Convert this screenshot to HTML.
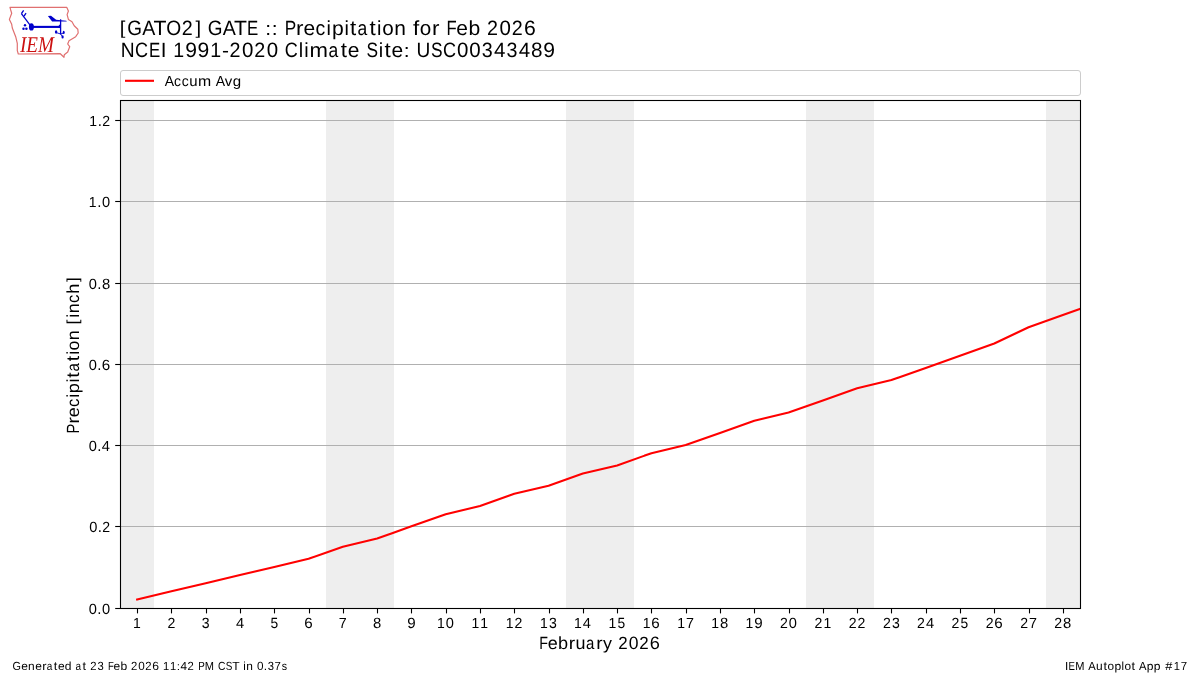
<!DOCTYPE html>
<html><head><meta charset="utf-8">
<style>
html,body{margin:0;padding:0;background:#fff;width:1200px;height:675px;overflow:hidden}
svg{display:block;will-change:transform}
text{font-family:"Liberation Sans",sans-serif;fill:#000;text-rendering:geometricPrecision}
</style></head>
<body>
<svg width="1200" height="675" viewBox="0 0 1200 675">
<rect x="0" y="0" width="1200" height="675" fill="#fff"/>
<!-- logo -->
<g id="logo">
<path d="M10,7.3 L66.7,7.3 L68.4,11 L67.1,14.6 L68.4,19.4 L72,21.7 L74.2,25.7 L77.8,29.2 L78.2,33 L75.7,36.7 L69,40.7 L67.7,44 L69.7,46.7 L67.7,52 L64.3,54.7 L64,57.3 L60.3,53.7 L18.3,54 L17.3,50.7 L17.3,43.3 L15.7,36.7 L12.3,28 L11.7,24.3 L9.4,19.4 L11.7,13.2 L10.6,9.7 Z" fill="none" stroke="#e07070" stroke-width="1.2" stroke-linejoin="round"/>
<g fill="#0000cc" stroke="#0000cc">
<line x1="31.4" y1="26.8" x2="21.4" y2="13.7" stroke-width="1.3"/>
<line x1="21.4" y1="13.7" x2="23.6" y2="10.3" stroke-width="1.3"/>
<line x1="24.1" y1="16.2" x2="26" y2="13.2" stroke-width="1.3"/>
<ellipse cx="31.4" cy="26.9" rx="2.5" ry="3.6" stroke="none"/>
<circle cx="25" cy="25.3" r="1.2" stroke="none"/>
<circle cx="23.5" cy="28.8" r="1.25" stroke="none"/>
<circle cx="26.4" cy="28.8" r="1.25" stroke="none"/>
<line x1="31.4" y1="26.9" x2="60.6" y2="26.9" stroke-width="2.1"/>
<line x1="60.6" y1="19.3" x2="60.6" y2="34.2" stroke-width="1.3"/>
<polygon points="57.5,26.9 60.6,23.8 60.6,28.4" stroke="none"/>
<polygon points="47.9,16 51,15.8 56.1,19.8 66.3,20.7 66.8,21.6 52.1,21.6" stroke="none"/>
<ellipse cx="56.1" cy="32" rx="1.2" ry="1.8" stroke="none"/>
<ellipse cx="63.7" cy="32.4" rx="1" ry="1.7" stroke="none"/>
<ellipse cx="62.6" cy="36.9" rx="1.1" ry="1.6" stroke="none"/>
<polyline points="56.1,32.5 60.6,34 63.7,33" fill="none" stroke-width="0.9"/>
<line x1="60.6" y1="34" x2="62.6" y2="36.9" stroke-width="0.9"/>
</g>
<text x="20" y="51.7" font-family="Liberation Serif" font-style="italic" font-size="22.5" fill="#cc1111" style="font-family:'Liberation Serif',serif;fill:#cc1111" textLength="34" lengthAdjust="spacingAndGlyphs">IEM</text>
</g>


<g transform="translate(119.50 35.00)"><text transform="matrix(1.0418 0 0 0.9565 0.23 -1.30)" font-size="19.44">[</text><text transform="matrix(0.9753 0 0 1.0683 7.64 0.07)" font-size="19.44">G</text><text transform="matrix(1.0074 0 0 1.0596 22.74 0.00)" font-size="19.44">A</text><text transform="matrix(1.0907 0 0 1.0596 33.97 0.00)" font-size="19.44">T</text><text transform="matrix(0.9886 0 0 1.0683 46.68 0.07)" font-size="19.44">O</text><text transform="matrix(1.0161 0 0 1.0629 62.31 0.00)" font-size="19.44">2</text><text transform="matrix(1.0418 0 0 0.9565 75.98 -1.30)" font-size="19.44">]</text><text transform="matrix(0.9753 0 0 1.0683 88.14 0.07)" font-size="19.44">G</text><text transform="matrix(1.0074 0 0 1.0596 103.24 0.00)" font-size="19.44">A</text><text transform="matrix(1.0907 0 0 1.0596 114.47 0.00)" font-size="19.44">T</text><text transform="matrix(0.8667 0 0 1.0596 127.53 0.00)" font-size="19.44">E</text><text transform="matrix(1.0821 0 0 0.9787 145.86 0.00)" font-size="19.44">:</text><text transform="matrix(1.0821 0 0 0.9787 152.36 0.00)" font-size="19.44">:</text><text transform="matrix(0.8844 0 0 1.0596 165.25 0.00)" font-size="19.44">P</text><text transform="matrix(1.1500 0 0 1.0408 176.60 0.00)" font-size="19.44">r</text><text transform="matrix(1.0801 0 0 1.0481 183.93 0.08)" font-size="19.44">e</text><text transform="matrix(1.0034 0 0 1.0481 195.99 0.08)" font-size="19.44">c</text><text transform="matrix(1.0222 0 0 1.0485 207.00 0.00)" font-size="19.44">i</text><text transform="matrix(1.0879 0 0 1.0308 212.40 -0.11)" font-size="19.44">p</text><text transform="matrix(1.0222 0 0 1.0485 224.88 0.00)" font-size="19.44">i</text><text transform="matrix(1.1500 0 0 1.0731 230.52 -0.16)" font-size="19.44">t</text><text transform="matrix(0.8992 0 0 1.0481 237.93 0.08)" font-size="19.44">a</text><text transform="matrix(1.1500 0 0 1.0731 250.02 -0.16)" font-size="19.44">t</text><text transform="matrix(1.0222 0 0 1.0485 257.50 0.00)" font-size="19.44">i</text><text transform="matrix(1.0631 0 0 1.0481 262.70 0.08)" font-size="19.44">o</text><text transform="matrix(1.0782 0 0 1.0408 274.87 0.00)" font-size="19.44">n</text><text transform="matrix(1.1500 0 0 1.0499 293.55 0.00)" font-size="19.44">f</text><text transform="matrix(1.0631 0 0 1.0481 300.20 0.08)" font-size="19.44">o</text><text transform="matrix(1.1500 0 0 1.0408 312.60 0.00)" font-size="19.44">r</text><text transform="matrix(0.8571 0 0 1.0596 326.92 0.00)" font-size="19.44">F</text><text transform="matrix(1.0801 0 0 1.0481 336.68 0.08)" font-size="19.44">e</text><text transform="matrix(1.0879 0 0 1.0539 348.90 0.08)" font-size="19.44">b</text><text transform="matrix(1.0161 0 0 1.0629 367.56 0.00)" font-size="19.44">2</text><text transform="matrix(1.0541 0 0 1.0683 379.98 0.07)" font-size="19.44">0</text><text transform="matrix(1.0161 0 0 1.0629 392.18 0.00)" font-size="19.44">2</text><text transform="matrix(1.0910 0 0 1.0683 404.41 0.07)" font-size="19.44">6</text></g>
<g transform="translate(120.30 57.00)"><text transform="matrix(0.9878 0 0 1.0596 0.33 0.00)" font-size="19.44">N</text><text transform="matrix(0.9283 0 0 1.0683 14.68 0.07)" font-size="19.44">C</text><text transform="matrix(0.8667 0 0 1.0596 28.65 0.00)" font-size="19.44">E</text><text transform="matrix(1.0576 0 0 1.0596 40.39 0.00)" font-size="19.44">I</text><text transform="matrix(1.0068 0 0 1.0596 52.90 0.00)" font-size="19.44">1</text><text transform="matrix(1.0888 0 0 1.0683 64.86 0.07)" font-size="19.44">9</text><text transform="matrix(1.0888 0 0 1.0683 77.23 0.07)" font-size="19.44">9</text><text transform="matrix(1.0068 0 0 1.0596 90.02 0.00)" font-size="19.44">1</text><text transform="matrix(1.0780 0 0 1.0250 101.77 -0.03)" font-size="19.44">-</text><text transform="matrix(1.0161 0 0 1.0629 109.31 0.00)" font-size="19.44">2</text><text transform="matrix(1.0541 0 0 1.0683 121.73 0.07)" font-size="19.44">0</text><text transform="matrix(1.0161 0 0 1.0629 133.93 0.00)" font-size="19.44">2</text><text transform="matrix(1.0541 0 0 1.0683 146.36 0.07)" font-size="19.44">0</text><text transform="matrix(0.9283 0 0 1.0683 164.55 0.07)" font-size="19.44">C</text><text transform="matrix(1.0222 0 0 1.0485 178.49 0.00)" font-size="19.44">l</text><text transform="matrix(1.0222 0 0 1.0485 184.00 0.00)" font-size="19.44">i</text><text transform="matrix(1.1394 0 0 1.0408 189.29 0.00)" font-size="19.44">m</text><text transform="matrix(0.8992 0 0 1.0481 208.30 0.08)" font-size="19.44">a</text><text transform="matrix(1.1500 0 0 1.0731 220.40 -0.16)" font-size="19.44">t</text><text transform="matrix(1.0801 0 0 1.0481 227.56 0.08)" font-size="19.44">e</text><text transform="matrix(0.8914 0 0 1.0683 246.12 0.07)" font-size="19.44">S</text><text transform="matrix(1.0222 0 0 1.0485 258.50 0.00)" font-size="19.44">i</text><text transform="matrix(1.1500 0 0 1.0731 264.15 -0.16)" font-size="19.44">t</text><text transform="matrix(1.0801 0 0 1.0481 271.31 0.08)" font-size="19.44">e</text><text transform="matrix(1.0821 0 0 0.9787 283.48 0.00)" font-size="19.44">:</text><text transform="matrix(0.9828 0 0 1.0651 296.09 0.07)" font-size="19.44">U</text><text transform="matrix(0.8914 0 0 1.0683 310.74 0.07)" font-size="19.44">S</text><text transform="matrix(0.9283 0 0 1.0683 322.80 0.07)" font-size="19.44">C</text><text transform="matrix(1.0541 0 0 1.0683 336.73 0.07)" font-size="19.44">0</text><text transform="matrix(1.0541 0 0 1.0683 348.98 0.07)" font-size="19.44">0</text><text transform="matrix(1.0124 0 0 1.0683 361.48 0.07)" font-size="19.44">3</text><text transform="matrix(1.0543 0 0 1.0596 373.60 0.00)" font-size="19.44">4</text><text transform="matrix(1.0124 0 0 1.0683 386.23 0.07)" font-size="19.44">3</text><text transform="matrix(1.0543 0 0 1.0596 398.35 0.00)" font-size="19.44">4</text><text transform="matrix(1.0656 0 0 1.0683 410.67 0.07)" font-size="19.44">8</text><text transform="matrix(1.0888 0 0 1.0683 422.86 0.07)" font-size="19.44">9</text></g>
<rect x="120.5" y="70.5" width="960" height="25" rx="2.5" ry="2.5" fill="#fff" stroke="#cccccc" stroke-width="1"/>
<line x1="125" y1="80.8" x2="154" y2="80.8" stroke="#ff0000" stroke-width="2.1"/>
<g transform="translate(164.60 86.00)"><text transform="matrix(1.0074 0 0 1.0596 0.08 0.00)" font-size="13.89">A</text><text transform="matrix(1.0034 0 0 1.0481 9.42 0.05)" font-size="13.89">c</text><text transform="matrix(1.0034 0 0 1.0481 17.05 0.05)" font-size="13.89">c</text><text transform="matrix(1.0782 0 0 1.0672 24.71 0.05)" font-size="13.89">u</text><text transform="matrix(1.1394 0 0 1.0408 33.46 0.00)" font-size="13.89">m</text><text transform="matrix(1.0074 0 0 1.0596 51.21 0.00)" font-size="13.89">A</text><text transform="matrix(1.0792 0 0 1.0351 60.24 0.00)" font-size="13.89">v</text><text transform="matrix(1.0869 0 0 1.0322 68.26 -0.09)" font-size="13.89">g</text></g>
<g fill="#eeeeee">
<rect x="121" y="101" width="33" height="507"/>
<rect x="326" y="101" width="68" height="507"/>
<rect x="566" y="101" width="68" height="507"/>
<rect x="806" y="101" width="68" height="507"/>
<rect x="1046" y="101" width="34" height="507"/>
</g>
<g stroke="#b0b0b0" stroke-width="1" shape-rendering="crispEdges"><line x1="120" y1="120.5" x2="1080" y2="120.5"/><line x1="120" y1="201.5" x2="1080" y2="201.5"/><line x1="120" y1="283.5" x2="1080" y2="283.5"/><line x1="120" y1="364.5" x2="1080" y2="364.5"/><line x1="120" y1="445.5" x2="1080" y2="445.5"/><line x1="120" y1="526.5" x2="1080" y2="526.5"/></g>
<svg x="120" y="100" width="960" height="508" viewBox="120 100 960 508" overflow="hidden">
<polyline fill="none" stroke="#ff0000" stroke-width="2.08" stroke-linejoin="round" stroke-linecap="square" points="137.14,599.48 171.43,591.35 205.71,583.23 240.00,575.10 274.29,566.98 308.57,558.85 342.86,546.66 377.14,538.54 411.43,526.35 445.71,514.16 480.00,506.04 514.29,493.85 548.57,485.73 582.86,473.54 617.14,465.41 651.43,453.23 685.71,445.10 720.00,432.91 754.29,420.73 788.57,412.60 822.86,400.41 857.14,388.23 891.43,380.10 925.71,367.91 960.00,355.73 994.29,343.54 1028.57,327.29 1062.86,315.10 1097.14,302.91"/>
</svg>
<rect x="120.5" y="100.5" width="960" height="508" fill="none" stroke="#000" stroke-width="1.1"/>
<g stroke="#000" stroke-width="1.1"><line x1="115.2" y1="120.5" x2="120.5" y2="120.5"/><line x1="115.2" y1="201.5" x2="120.5" y2="201.5"/><line x1="115.2" y1="283.5" x2="120.5" y2="283.5"/><line x1="115.2" y1="364.5" x2="120.5" y2="364.5"/><line x1="115.2" y1="445.5" x2="120.5" y2="445.5"/><line x1="115.2" y1="526.5" x2="120.5" y2="526.5"/><line x1="115.2" y1="608.5" x2="120.5" y2="608.5"/></g>
<g stroke="#000" stroke-width="1.1"><line x1="137.5" y1="608.5" x2="137.5" y2="613.4"/><line x1="171.5" y1="608.5" x2="171.5" y2="613.4"/><line x1="206.5" y1="608.5" x2="206.5" y2="613.4"/><line x1="240.5" y1="608.5" x2="240.5" y2="613.4"/><line x1="274.5" y1="608.5" x2="274.5" y2="613.4"/><line x1="309.5" y1="608.5" x2="309.5" y2="613.4"/><line x1="343.5" y1="608.5" x2="343.5" y2="613.4"/><line x1="377.5" y1="608.5" x2="377.5" y2="613.4"/><line x1="411.5" y1="608.5" x2="411.5" y2="613.4"/><line x1="446.5" y1="608.5" x2="446.5" y2="613.4"/><line x1="480.5" y1="608.5" x2="480.5" y2="613.4"/><line x1="514.5" y1="608.5" x2="514.5" y2="613.4"/><line x1="549.5" y1="608.5" x2="549.5" y2="613.4"/><line x1="583.5" y1="608.5" x2="583.5" y2="613.4"/><line x1="617.5" y1="608.5" x2="617.5" y2="613.4"/><line x1="651.5" y1="608.5" x2="651.5" y2="613.4"/><line x1="686.5" y1="608.5" x2="686.5" y2="613.4"/><line x1="720.5" y1="608.5" x2="720.5" y2="613.4"/><line x1="754.5" y1="608.5" x2="754.5" y2="613.4"/><line x1="789.5" y1="608.5" x2="789.5" y2="613.4"/><line x1="823.5" y1="608.5" x2="823.5" y2="613.4"/><line x1="857.5" y1="608.5" x2="857.5" y2="613.4"/><line x1="891.5" y1="608.5" x2="891.5" y2="613.4"/><line x1="926.5" y1="608.5" x2="926.5" y2="613.4"/><line x1="960.5" y1="608.5" x2="960.5" y2="613.4"/><line x1="994.5" y1="608.5" x2="994.5" y2="613.4"/><line x1="1029.5" y1="608.5" x2="1029.5" y2="613.4"/><line x1="1063.5" y1="608.5" x2="1063.5" y2="613.4"/></g>
<g><g transform="translate(88.80 126.00)"><text transform="matrix(1.0068 0 0 1.0596 0.46 0.00)" font-size="13.89">1</text><text transform="matrix(1.0821 0 0 1.1598 8.99 -0.00)" font-size="13.89">.</text><text transform="matrix(1.0161 0 0 1.0629 13.56 0.00)" font-size="13.89">2</text></g><g transform="translate(88.34 207.00)"><text transform="matrix(1.0068 0 0 1.0596 0.46 0.00)" font-size="13.89">1</text><text transform="matrix(1.0821 0 0 1.1598 8.99 -0.00)" font-size="13.89">.</text><text transform="matrix(1.0541 0 0 1.0683 13.59 0.05)" font-size="13.89">0</text></g><g transform="translate(88.49 289.00)"><text transform="matrix(1.0541 0 0 1.0683 0.34 0.05)" font-size="13.89">0</text><text transform="matrix(1.0821 0 0 1.1598 8.86 -0.00)" font-size="13.89">.</text><text transform="matrix(1.0656 0 0 1.0683 13.42 0.05)" font-size="13.89">8</text></g><g transform="translate(88.41 370.00)"><text transform="matrix(1.0541 0 0 1.0683 0.34 0.05)" font-size="13.89">0</text><text transform="matrix(1.0821 0 0 1.1598 8.86 -0.00)" font-size="13.89">.</text><text transform="matrix(1.0910 0 0 1.0683 13.33 0.05)" font-size="13.89">6</text></g><g transform="translate(88.32 451.00)"><text transform="matrix(1.0541 0 0 1.0683 0.34 0.05)" font-size="13.89">0</text><text transform="matrix(1.0821 0 0 1.1598 8.86 -0.00)" font-size="13.89">.</text><text transform="matrix(1.0543 0 0 1.0596 13.47 0.00)" font-size="13.89">4</text></g><g transform="translate(88.93 532.00)"><text transform="matrix(1.0541 0 0 1.0683 0.34 0.05)" font-size="13.89">0</text><text transform="matrix(1.0821 0 0 1.1598 8.86 -0.00)" font-size="13.89">.</text><text transform="matrix(1.0161 0 0 1.0629 13.43 0.00)" font-size="13.89">2</text></g><g transform="translate(88.46 614.00)"><text transform="matrix(1.0541 0 0 1.0683 0.34 0.05)" font-size="13.89">0</text><text transform="matrix(1.0821 0 0 1.1598 8.86 -0.00)" font-size="13.89">.</text><text transform="matrix(1.0541 0 0 1.0683 13.47 0.05)" font-size="13.89">0</text></g></g>
<g><g transform="translate(132.60 628.00)"><text transform="matrix(1.0068 0 0 1.0596 0.46 0.00)" font-size="13.89">1</text></g><g transform="translate(167.20 628.00)"><text transform="matrix(1.0161 0 0 1.0629 0.31 0.00)" font-size="13.89">2</text></g><g transform="translate(201.32 628.00)"><text transform="matrix(1.0124 0 0 1.0683 0.52 0.05)" font-size="13.89">3</text></g><g transform="translate(235.63 628.00)"><text transform="matrix(1.0543 0 0 1.0596 0.34 0.00)" font-size="13.89">4</text></g><g transform="translate(269.94 628.00)"><text transform="matrix(0.9949 0 0 1.0651 0.52 0.05)" font-size="13.89">5</text></g><g transform="translate(304.11 628.00)"><text transform="matrix(1.0910 0 0 1.0683 0.20 0.05)" font-size="13.89">6</text></g><g transform="translate(338.46 628.00)"><text transform="matrix(1.0311 0 0 1.0596 0.41 0.00)" font-size="13.89">7</text></g><g transform="translate(372.73 628.00)"><text transform="matrix(1.0656 0 0 1.0683 0.30 0.05)" font-size="13.89">8</text></g><g transform="translate(407.06 628.00)"><text transform="matrix(1.0888 0 0 1.0683 0.17 0.05)" font-size="13.89">9</text></g><g transform="translate(436.56 628.00)"><text transform="matrix(1.0068 0 0 1.0596 0.46 0.00)" font-size="13.89">1</text><text transform="matrix(1.0541 0 0 1.0683 9.22 0.05)" font-size="13.89">0</text></g><g transform="translate(471.02 628.00)"><text transform="matrix(1.0068 0 0 1.0596 0.46 0.00)" font-size="13.89">1</text><text transform="matrix(1.0068 0 0 1.0596 9.34 0.00)" font-size="13.89">1</text></g><g transform="translate(505.36 628.00)"><text transform="matrix(1.0068 0 0 1.0596 0.46 0.00)" font-size="13.89">1</text><text transform="matrix(1.0161 0 0 1.0629 9.18 0.00)" font-size="13.89">2</text></g><g transform="translate(539.51 628.00)"><text transform="matrix(1.0068 0 0 1.0596 0.46 0.00)" font-size="13.89">1</text><text transform="matrix(1.0124 0 0 1.0683 9.40 0.05)" font-size="13.89">3</text></g><g transform="translate(573.63 628.00)"><text transform="matrix(1.0068 0 0 1.0596 0.46 0.00)" font-size="13.89">1</text><text transform="matrix(1.0543 0 0 1.0596 9.22 0.00)" font-size="13.89">4</text></g><g transform="translate(608.13 628.00)"><text transform="matrix(1.0068 0 0 1.0596 0.46 0.00)" font-size="13.89">1</text><text transform="matrix(0.9949 0 0 1.0651 9.39 0.05)" font-size="13.89">5</text></g><g transform="translate(642.25 628.00)"><text transform="matrix(1.0068 0 0 1.0596 0.46 0.00)" font-size="13.89">1</text><text transform="matrix(1.0910 0 0 1.0683 9.08 0.05)" font-size="13.89">6</text></g><g transform="translate(676.69 628.00)"><text transform="matrix(1.0068 0 0 1.0596 0.46 0.00)" font-size="13.89">1</text><text transform="matrix(1.0311 0 0 1.0596 9.28 0.00)" font-size="13.89">7</text></g><g transform="translate(710.86 628.00)"><text transform="matrix(1.0068 0 0 1.0596 0.46 0.00)" font-size="13.89">1</text><text transform="matrix(1.0656 0 0 1.0683 9.17 0.05)" font-size="13.89">8</text></g><g transform="translate(745.16 628.00)"><text transform="matrix(1.0068 0 0 1.0596 0.46 0.00)" font-size="13.89">1</text><text transform="matrix(1.0888 0 0 1.0683 9.04 0.05)" font-size="13.89">9</text></g><g transform="translate(779.73 628.00)"><text transform="matrix(1.0161 0 0 1.0629 0.31 0.00)" font-size="13.89">2</text><text transform="matrix(1.0541 0 0 1.0683 9.09 0.05)" font-size="13.89">0</text></g><g transform="translate(814.20 628.00)"><text transform="matrix(1.0161 0 0 1.0629 0.31 0.00)" font-size="13.89">2</text><text transform="matrix(1.0068 0 0 1.0596 9.21 0.00)" font-size="13.89">1</text></g><g transform="translate(848.54 628.00)"><text transform="matrix(1.0161 0 0 1.0629 0.31 0.00)" font-size="13.89">2</text><text transform="matrix(1.0161 0 0 1.0629 9.06 0.00)" font-size="13.89">2</text></g><g transform="translate(882.68 628.00)"><text transform="matrix(1.0161 0 0 1.0629 0.31 0.00)" font-size="13.89">2</text><text transform="matrix(1.0124 0 0 1.0683 9.27 0.05)" font-size="13.89">3</text></g><g transform="translate(916.80 628.00)"><text transform="matrix(1.0161 0 0 1.0629 0.31 0.00)" font-size="13.89">2</text><text transform="matrix(1.0543 0 0 1.0596 9.09 0.00)" font-size="13.89">4</text></g><g transform="translate(951.31 628.00)"><text transform="matrix(1.0161 0 0 1.0629 0.31 0.00)" font-size="13.89">2</text><text transform="matrix(0.9949 0 0 1.0651 9.27 0.05)" font-size="13.89">5</text></g><g transform="translate(985.42 628.00)"><text transform="matrix(1.0161 0 0 1.0629 0.31 0.00)" font-size="13.89">2</text><text transform="matrix(1.0910 0 0 1.0683 8.95 0.05)" font-size="13.89">6</text></g><g transform="translate(1019.86 628.00)"><text transform="matrix(1.0161 0 0 1.0629 0.31 0.00)" font-size="13.89">2</text><text transform="matrix(1.0311 0 0 1.0596 9.16 0.00)" font-size="13.89">7</text></g><g transform="translate(1054.03 628.00)"><text transform="matrix(1.0161 0 0 1.0629 0.31 0.00)" font-size="13.89">2</text><text transform="matrix(1.0656 0 0 1.0683 9.05 0.05)" font-size="13.89">8</text></g></g>
<g transform="translate(538.90 649.00)"><text transform="matrix(0.8571 0 0 1.0596 0.46 0.00)" font-size="16.67">F</text><text transform="matrix(1.0801 0 0 1.0481 8.78 0.07)" font-size="16.67">e</text><text transform="matrix(1.0879 0 0 1.0539 19.22 0.06)" font-size="16.67">b</text><text transform="matrix(1.1500 0 0 1.0408 29.89 0.00)" font-size="16.67">r</text><text transform="matrix(1.0782 0 0 1.0672 36.50 0.06)" font-size="16.67">u</text><text transform="matrix(0.8992 0 0 1.0481 47.11 0.07)" font-size="16.67">a</text><text transform="matrix(1.1500 0 0 1.0408 57.39 0.00)" font-size="16.67">r</text><text transform="matrix(1.0739 0 0 1.0259 64.20 -0.08)" font-size="16.67">y</text><text transform="matrix(1.0161 0 0 1.0629 79.24 0.00)" font-size="16.67">2</text><text transform="matrix(1.0541 0 0 1.0683 89.91 0.06)" font-size="16.67">0</text><text transform="matrix(1.0161 0 0 1.0629 100.37 0.00)" font-size="16.67">2</text><text transform="matrix(1.0910 0 0 1.0683 110.87 0.06)" font-size="16.67">6</text></g>
<g transform="translate(79.00 433.90) rotate(-90)"><text transform="matrix(0.8844 0 0 1.0596 0.43 0.00)" font-size="16.67">P</text><text transform="matrix(1.1500 0 0 1.0408 10.39 0.00)" font-size="16.67">r</text><text transform="matrix(1.0801 0 0 1.0481 16.53 0.07)" font-size="16.67">e</text><text transform="matrix(1.0034 0 0 1.0481 26.83 0.07)" font-size="16.67">c</text><text transform="matrix(1.0222 0 0 1.0485 36.18 0.00)" font-size="16.67">i</text><text transform="matrix(1.0879 0 0 1.0308 40.72 -0.10)" font-size="16.67">p</text><text transform="matrix(1.0222 0 0 1.0485 51.31 0.00)" font-size="16.67">i</text><text transform="matrix(1.1500 0 0 1.0731 56.05 -0.14)" font-size="16.67">t</text><text transform="matrix(0.8992 0 0 1.0481 62.36 0.07)" font-size="16.67">a</text><text transform="matrix(1.1500 0 0 1.0731 72.68 -0.14)" font-size="16.67">t</text><text transform="matrix(1.0222 0 0 1.0485 79.06 0.00)" font-size="16.67">i</text><text transform="matrix(1.0631 0 0 1.0481 83.43 0.07)" font-size="16.67">o</text><text transform="matrix(1.0782 0 0 1.0408 93.70 0.00)" font-size="16.67">n</text><text transform="matrix(1.0418 0 0 0.9565 109.32 -1.11)" font-size="16.67">[</text><text transform="matrix(1.0222 0 0 1.0485 116.06 0.00)" font-size="16.67">i</text><text transform="matrix(1.0782 0 0 1.0408 120.57 0.00)" font-size="16.67">n</text><text transform="matrix(1.0034 0 0 1.0481 130.96 0.07)" font-size="16.67">c</text><text transform="matrix(1.0856 0 0 1.0485 140.13 0.00)" font-size="16.67">h</text><text transform="matrix(1.0418 0 0 0.9565 151.86 -1.11)" font-size="16.67">]</text></g>
<g transform="translate(12.40 670.00)"><text transform="matrix(0.9753 0 0 1.0683 0.08 0.04)" font-size="11.11">G</text><text transform="matrix(1.0801 0 0 1.0481 8.73 0.04)" font-size="11.11">e</text><text transform="matrix(1.0782 0 0 1.0408 15.71 0.00)" font-size="11.11">n</text><text transform="matrix(1.0801 0 0 1.0481 22.73 0.04)" font-size="11.11">e</text><text transform="matrix(1.1500 0 0 1.0408 29.84 0.00)" font-size="11.11">r</text><text transform="matrix(0.8992 0 0 1.0481 34.37 0.04)" font-size="11.11">a</text><text transform="matrix(1.1500 0 0 1.0731 41.37 -0.09)" font-size="11.11">t</text><text transform="matrix(1.0801 0 0 1.0481 45.48 0.04)" font-size="11.11">e</text><text transform="matrix(1.0869 0 0 1.0539 52.36 0.04)" font-size="11.11">d</text><text transform="matrix(0.8992 0 0 1.0481 63.12 0.04)" font-size="11.11">a</text><text transform="matrix(1.1500 0 0 1.0731 70.12 -0.09)" font-size="11.11">t</text><text transform="matrix(1.0161 0 0 1.0629 77.87 0.00)" font-size="11.11">2</text><text transform="matrix(1.0124 0 0 1.0683 85.17 0.04)" font-size="11.11">3</text><text transform="matrix(0.8571 0 0 1.0596 95.56 0.00)" font-size="11.11">F</text><text transform="matrix(1.0801 0 0 1.0481 101.10 0.04)" font-size="11.11">e</text><text transform="matrix(1.0879 0 0 1.0539 108.10 0.04)" font-size="11.11">b</text><text transform="matrix(1.0161 0 0 1.0629 118.62 0.00)" font-size="11.11">2</text><text transform="matrix(1.0541 0 0 1.0683 125.77 0.04)" font-size="11.11">0</text><text transform="matrix(1.0161 0 0 1.0629 132.75 0.00)" font-size="11.11">2</text><text transform="matrix(1.0910 0 0 1.0683 139.79 0.04)" font-size="11.11">6</text><text transform="matrix(1.0068 0 0 1.0596 150.49 0.00)" font-size="11.11">1</text><text transform="matrix(1.0068 0 0 1.0596 157.49 0.00)" font-size="11.11">1</text><text transform="matrix(1.0821 0 0 0.9787 164.33 0.00)" font-size="11.11">:</text><text transform="matrix(1.0543 0 0 1.0596 168.02 0.00)" font-size="11.11">4</text><text transform="matrix(1.0161 0 0 1.0629 175.12 0.00)" font-size="11.11">2</text><text transform="matrix(0.8844 0 0 1.0596 185.78 0.00)" font-size="11.11">P</text><text transform="matrix(0.9971 0 0 1.0596 192.43 0.00)" font-size="11.11">M</text><text transform="matrix(0.9283 0 0 1.0683 205.48 0.04)" font-size="11.11">C</text><text transform="matrix(0.8914 0 0 1.0683 213.41 0.04)" font-size="11.11">S</text><text transform="matrix(1.0907 0 0 1.0596 219.95 0.00)" font-size="11.11">T</text><text transform="matrix(1.0222 0 0 1.0485 230.79 0.00)" font-size="11.11">i</text><text transform="matrix(1.0782 0 0 1.0408 233.84 0.00)" font-size="11.11">n</text><text transform="matrix(1.0541 0 0 1.0683 244.52 0.04)" font-size="11.11">0</text><text transform="matrix(1.0821 0 0 1.1598 251.34 0.00)" font-size="11.11">.</text><text transform="matrix(1.0124 0 0 1.0683 255.29 0.04)" font-size="11.11">3</text><text transform="matrix(1.0311 0 0 1.0596 262.20 0.00)" font-size="11.11">7</text><text transform="matrix(0.9586 0 0 1.0509 269.31 0.04)" font-size="11.11">s</text></g>
<g transform="translate(1064.90 670.00)"><text transform="matrix(1.0576 0 0 1.0596 0.01 0.00)" font-size="11.11">I</text><text transform="matrix(0.8667 0 0 1.0596 3.55 0.00)" font-size="11.11">E</text><text transform="matrix(0.9971 0 0 1.0596 10.43 0.00)" font-size="11.11">M</text><text transform="matrix(1.0074 0 0 1.0596 23.44 0.00)" font-size="11.11">A</text><text transform="matrix(1.0782 0 0 1.0672 31.17 0.04)" font-size="11.11">u</text><text transform="matrix(1.1500 0 0 1.0731 38.49 -0.09)" font-size="11.11">t</text><text transform="matrix(1.0631 0 0 1.0481 42.62 0.04)" font-size="11.11">o</text><text transform="matrix(1.0879 0 0 1.0308 49.48 -0.07)" font-size="11.11">p</text><text transform="matrix(1.0222 0 0 1.0485 56.53 0.00)" font-size="11.11">l</text><text transform="matrix(1.0631 0 0 1.0481 59.49 0.04)" font-size="11.11">o</text><text transform="matrix(1.1500 0 0 1.0731 66.49 -0.09)" font-size="11.11">t</text><text transform="matrix(1.0074 0 0 1.0596 74.06 0.00)" font-size="11.11">A</text><text transform="matrix(1.0879 0 0 1.0308 81.85 -0.07)" font-size="11.11">p</text><text transform="matrix(1.0879 0 0 1.0308 88.85 -0.07)" font-size="11.11">p</text><text transform="matrix(1.1500 0 0 1.0493 100.23 0.00)" font-size="11.11">#</text><text transform="matrix(1.0068 0 0 1.0596 108.87 0.00)" font-size="11.11">1</text><text transform="matrix(1.0311 0 0 1.0596 115.82 0.00)" font-size="11.11">7</text></g>
</svg>
</body></html>
